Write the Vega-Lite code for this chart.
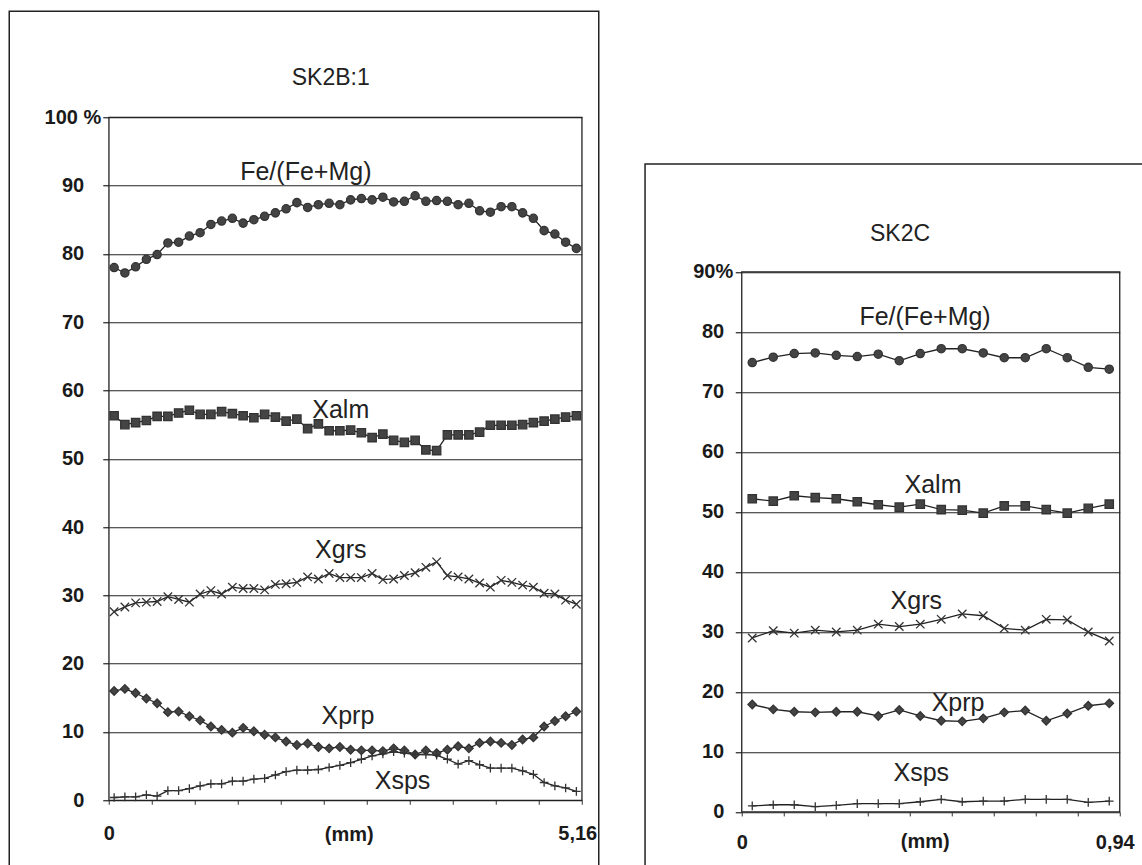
{
  "$schema": "https://vega.github.io/schema/vega-lite/v6.json",
  "padding": {"left": 7.75, "top": 9.25, "right": 0, "bottom": 0},
  "spacing": 43,
  "config": {
    "view": {"stroke": "#222", "strokeWidth": 1.3},
    "font": "Liberation Sans"
  },
  "datasets": {
    "left": [
      {"x": 0, "fe": 78.0, "alm": 56.3, "grs": 27.6, "prp": 16.0, "sps": 0.4},
      {"x": 0.12, "fe": 77.2, "alm": 55.0, "grs": 28.3, "prp": 16.3, "sps": 0.5},
      {"x": 0.24, "fe": 78.1, "alm": 55.3, "grs": 28.9, "prp": 15.7, "sps": 0.5},
      {"x": 0.36, "fe": 79.2, "alm": 55.6, "grs": 29.0, "prp": 14.9, "sps": 0.8},
      {"x": 0.48, "fe": 79.9, "alm": 56.2, "grs": 29.1, "prp": 14.2, "sps": 0.6},
      {"x": 0.60, "fe": 81.6, "alm": 56.2, "grs": 29.8, "prp": 12.9, "sps": 1.4},
      {"x": 0.72, "fe": 81.7, "alm": 56.7, "grs": 29.4, "prp": 13.0, "sps": 1.4},
      {"x": 0.84, "fe": 82.6, "alm": 57.1, "grs": 29.0, "prp": 12.3, "sps": 1.7},
      {"x": 0.96, "fe": 83.1, "alm": 56.5, "grs": 30.2, "prp": 11.7, "sps": 2.1},
      {"x": 1.08, "fe": 84.3, "alm": 56.5, "grs": 30.7, "prp": 10.8, "sps": 2.4},
      {"x": 1.20, "fe": 84.8, "alm": 56.9, "grs": 30.2, "prp": 10.3, "sps": 2.4},
      {"x": 1.32, "fe": 85.2, "alm": 56.6, "grs": 31.2, "prp": 9.9, "sps": 2.8},
      {"x": 1.44, "fe": 84.5, "alm": 56.3, "grs": 31.0, "prp": 10.6, "sps": 2.8},
      {"x": 1.56, "fe": 85.0, "alm": 56.0, "grs": 31.0, "prp": 10.1, "sps": 3.1},
      {"x": 1.68, "fe": 85.5, "alm": 56.5, "grs": 30.8, "prp": 9.6, "sps": 3.2},
      {"x": 1.80, "fe": 86.0, "alm": 56.1, "grs": 31.6, "prp": 9.2, "sps": 3.7},
      {"x": 1.92, "fe": 86.6, "alm": 55.5, "grs": 31.7, "prp": 8.6, "sps": 4.2},
      {"x": 2.04, "fe": 87.5, "alm": 55.8, "grs": 31.9, "prp": 8.1, "sps": 4.4},
      {"x": 2.16, "fe": 86.8, "alm": 54.4, "grs": 32.7, "prp": 8.3, "sps": 4.4},
      {"x": 2.28, "fe": 87.2, "alm": 55.1, "grs": 32.4, "prp": 7.8, "sps": 4.5},
      {"x": 2.40, "fe": 87.4, "alm": 54.1, "grs": 33.2, "prp": 7.6, "sps": 4.8},
      {"x": 2.52, "fe": 87.2, "alm": 54.1, "grs": 32.6, "prp": 7.8, "sps": 5.1},
      {"x": 2.64, "fe": 87.9, "alm": 54.2, "grs": 32.6, "prp": 7.4, "sps": 5.5},
      {"x": 2.76, "fe": 88.1, "alm": 53.8, "grs": 32.6, "prp": 7.3, "sps": 6.0},
      {"x": 2.88, "fe": 87.9, "alm": 53.1, "grs": 33.2, "prp": 7.3, "sps": 6.5},
      {"x": 3.00, "fe": 88.3, "alm": 53.6, "grs": 32.3, "prp": 7.2, "sps": 6.8},
      {"x": 3.12, "fe": 87.6, "alm": 52.7, "grs": 32.4, "prp": 7.6, "sps": 7.1},
      {"x": 3.24, "fe": 87.7, "alm": 52.4, "grs": 32.9, "prp": 7.3, "sps": 6.9},
      {"x": 3.36, "fe": 88.5, "alm": 52.7, "grs": 33.3, "prp": 6.7, "sps": 6.7},
      {"x": 3.48, "fe": 87.7, "alm": 51.3, "grs": 34.1, "prp": 7.3, "sps": 6.7},
      {"x": 3.60, "fe": 87.8, "alm": 51.2, "grs": 34.9, "prp": 6.9, "sps": 6.6},
      {"x": 3.72, "fe": 87.7, "alm": 53.5, "grs": 32.9, "prp": 7.4, "sps": 6.0},
      {"x": 3.84, "fe": 87.2, "alm": 53.5, "grs": 32.7, "prp": 7.9, "sps": 5.3},
      {"x": 3.96, "fe": 87.4, "alm": 53.5, "grs": 32.4, "prp": 7.6, "sps": 5.8},
      {"x": 4.08, "fe": 86.3, "alm": 53.9, "grs": 31.8, "prp": 8.4, "sps": 5.2},
      {"x": 4.20, "fe": 86.1, "alm": 54.9, "grs": 31.2, "prp": 8.6, "sps": 4.7},
      {"x": 4.32, "fe": 86.9, "alm": 54.9, "grs": 32.2, "prp": 8.4, "sps": 4.7},
      {"x": 4.44, "fe": 86.9, "alm": 54.9, "grs": 31.9, "prp": 8.1, "sps": 4.7},
      {"x": 4.56, "fe": 86.0, "alm": 55.0, "grs": 31.5, "prp": 8.9, "sps": 4.3},
      {"x": 4.68, "fe": 85.2, "alm": 55.3, "grs": 31.2, "prp": 9.2, "sps": 3.8},
      {"x": 4.80, "fe": 83.4, "alm": 55.5, "grs": 30.3, "prp": 10.8, "sps": 2.6},
      {"x": 4.92, "fe": 82.9, "alm": 55.8, "grs": 30.2, "prp": 11.6, "sps": 2.1},
      {"x": 5.04, "fe": 81.7, "alm": 56.1, "grs": 29.3, "prp": 12.3, "sps": 1.8},
      {"x": 5.16, "fe": 80.8, "alm": 56.3, "grs": 28.7, "prp": 13.0, "sps": 1.3}
    ],
    "right": [
      {"x": 0, "fe": 74.9, "alm": 52.2, "grs": 29.0, "prp": 17.9, "sps": 1.0},
      {"x": 0.0553, "fe": 75.8, "alm": 51.8, "grs": 30.2, "prp": 17.1, "sps": 1.2},
      {"x": 0.1106, "fe": 76.4, "alm": 52.7, "grs": 29.8, "prp": 16.7, "sps": 1.2},
      {"x": 0.1659, "fe": 76.5, "alm": 52.4, "grs": 30.3, "prp": 16.6, "sps": 0.9},
      {"x": 0.2212, "fe": 76.1, "alm": 52.2, "grs": 30.0, "prp": 16.7, "sps": 1.1},
      {"x": 0.2765, "fe": 75.9, "alm": 51.7, "grs": 30.3, "prp": 16.7, "sps": 1.4},
      {"x": 0.3318, "fe": 76.3, "alm": 51.2, "grs": 31.3, "prp": 16.0, "sps": 1.4},
      {"x": 0.3871, "fe": 75.2, "alm": 50.8, "grs": 30.9, "prp": 17.0, "sps": 1.4},
      {"x": 0.4424, "fe": 76.4, "alm": 51.3, "grs": 31.3, "prp": 16.0, "sps": 1.7},
      {"x": 0.4976, "fe": 77.2, "alm": 50.4, "grs": 32.1, "prp": 15.2, "sps": 2.1},
      {"x": 0.5529, "fe": 77.2, "alm": 50.3, "grs": 33.0, "prp": 15.1, "sps": 1.7},
      {"x": 0.6082, "fe": 76.5, "alm": 49.8, "grs": 32.7, "prp": 15.6, "sps": 1.8},
      {"x": 0.6635, "fe": 75.7, "alm": 51.0, "grs": 30.6, "prp": 16.6, "sps": 1.8},
      {"x": 0.7188, "fe": 75.7, "alm": 51.0, "grs": 30.3, "prp": 16.9, "sps": 2.1},
      {"x": 0.7741, "fe": 77.2, "alm": 50.4, "grs": 32.1, "prp": 15.2, "sps": 2.1},
      {"x": 0.8294, "fe": 75.7, "alm": 49.8, "grs": 32.0, "prp": 16.4, "sps": 2.1},
      {"x": 0.8847, "fe": 74.1, "alm": 50.6, "grs": 30.0, "prp": 17.7, "sps": 1.6},
      {"x": 0.94, "fe": 73.8, "alm": 51.3, "grs": 28.5, "prp": 18.1, "sps": 1.8}
    ],
    "leftLabels": [
      {"t": "Fe/(Fe+Mg)", "x": 2.14, "y": 90.8},
      {"t": "Xalm", "x": 2.53, "y": 56.0},
      {"t": "Xgrs", "x": 2.53, "y": 35.5},
      {"t": "Xprp", "x": 2.61, "y": 11.1},
      {"t": "Xsps", "x": 3.22, "y": 1.6}
    ],
    "rightLabels": [
      {"t": "Fe/(Fe+Mg)", "x": 0.455, "y": 81.1},
      {"t": "Xalm", "x": 0.476, "y": 53.2},
      {"t": "Xgrs", "x": 0.432, "y": 33.9},
      {"t": "Xprp", "x": 0.542, "y": 16.8},
      {"t": "Xsps", "x": 0.445, "y": 5.2}
    ]
  },
  "hconcat": [
    {
      "width": 473,
      "height": 683,
      "layer": [
        {
          "data": {"values": [{}]},
          "mark": {"type": "rect", "filled": false, "stroke": "#222", "strokeWidth": 1.5, "clip": false},
          "encoding": {
            "x": {"datum": -1.1707, "type": "quantitative"},
            "x2": {"datum": 5.4098},
            "y": {"datum": 115.52, "type": "quantitative"},
            "y2": {"datum": -11.86}
          }
        },
        {
          "data": {"name": "left"},
          "transform": [{"fold": ["fe", "alm", "grs", "prp", "sps"], "as": ["s", "v"]}],
          "mark": {"type": "line", "color": "#222", "strokeWidth": 1.3},
          "encoding": {
            "x": {
              "field": "x", "type": "quantitative",
              "scale": {"domain": [-0.06, 5.22], "nice": false, "zero": false},
              "axis": {
                "values": [-0.06, 0.06, 0.18, 0.3, 0.42, 0.54, 0.66, 0.78, 0.9, 1.02, 1.14, 1.26, 1.38, 1.5, 1.62, 1.74, 1.86, 1.98, 2.1, 2.22, 2.34, 2.46, 2.58, 2.7, 2.82, 2.94, 3.06, 3.18, 3.3, 3.42, 3.54, 3.66, 3.78, 3.9, 4.02, 4.14, 4.26, 4.38, 4.5, 4.62, 4.74, 4.86, 4.98, 5.1, 5.22],
                "grid": false, "domain": false, "tickSize": 4, "tickColor": "#333", "tickWidth": 1,
                "labelExpr": "datum.value < 0 ? '0' : datum.value > 5.2 ? '5,16' : ''",
                "labelOffset": {"condition": {"test": "datum.value > 5.2", "value": -4.5}, "value": 0},
                "labelFont": "Liberation Sans", "labelFontSize": 20, "labelFontWeight": "bold", "labelColor": "#1a1a1a",
                "labelPadding": 19, "labelOverlap": false, "labelFlush": false, "labelBound": false,
                "title": "(mm)", "titleFont": "Liberation Sans", "titleFontSize": 20, "titleFontWeight": "bold", "titleColor": "#1a1a1a",
                "titleBaseline": "alphabetic", "titleY": 40, "titleX": 240
              }
            },
            "y": {
              "field": "v", "type": "quantitative",
              "scale": {"domain": [0, 100], "nice": false, "zero": false},
              "axis": {
                "values": [0, 10, 20, 30, 40, 50, 60, 70, 80, 90, 100],
                "grid": true, "gridColor": "#222", "gridWidth": 1.2, "domain": false,
                "tickSize": 6, "tickColor": "#222", "tickWidth": 1.2,
                "labelExpr": "datum.value == 100 ? '100 %' : datum.label",
                "labelPadding": {"condition": {"test": "datum.value == 100", "value": 2}, "value": 19},
                "labelFont": "Liberation Sans", "labelFontSize": 20, "labelFontWeight": "bold", "labelColor": "#1a1a1a",
                "title": null
              }
            },
            "detail": {"field": "s"}
          }
        },
        {
          "data": {"name": "left"},
          "transform": [{"fold": ["fe", "alm", "grs", "prp", "sps"], "as": ["s", "v"]}],
          "mark": {"type": "point", "stroke": "#333", "strokeWidth": 1.3, "opacity": 1},
          "encoding": {
            "x": {"field": "x", "type": "quantitative"},
            "y": {"field": "v", "type": "quantitative"},
            "shape": {"field": "s", "type": "nominal", "legend": null,
              "scale": {"domain": ["fe", "alm", "grs", "prp", "sps"], "range": ["circle", "square", "M-1,-1L1,1M-1,1L1,-1", "diamond", "M0,-1V1M-1,0H1"]}},
            "fill": {"field": "s", "type": "nominal", "legend": null,
              "scale": {"domain": ["fe", "alm", "grs", "prp", "sps"], "range": ["#444", "#444", "transparent", "#444", "transparent"]}},
            "size": {"field": "s", "type": "nominal", "legend": null,
              "scale": {"domain": ["fe", "alm", "grs", "prp", "sps"], "range": [68, 75, 100, 90, 95]}}
          }
        },
        {
          "data": {"name": "leftLabels"},
          "mark": {"type": "text", "font": "Liberation Sans", "fontSize": 25, "color": "#222", "baseline": "alphabetic", "align": "center"},
          "encoding": {
            "x": {"field": "x", "type": "quantitative"},
            "y": {"field": "y", "type": "quantitative"},
            "text": {"field": "t"}
          }
        },
        {
          "data": {"values": [{"t": "SK2B:1"}]},
          "mark": {"type": "text", "font": "Liberation Sans", "fontSize": 23, "color": "#222", "baseline": "alphabetic", "align": "center", "clip": false},
          "encoding": {
            "x": {"datum": 2.418, "type": "quantitative"},
            "y": {"datum": 104.69, "type": "quantitative"},
            "text": {"field": "t"}
          }
        }
      ]
    },
    {
      "width": 378,
      "height": 694.7,
      "view": {"stroke": null},
      "layer": [
        {
          "data": {"values": [{}]},
          "mark": {"type": "rect", "filled": false, "stroke": "#222", "strokeWidth": 1.5, "clip": false},
          "encoding": {
            "x": {"datum": -0.28226, "type": "quantitative"},
            "x2": {"datum": 1.04742},
            "y": {"datum": 108.0, "type": "quantitative"},
            "y2": {"datum": -11.55}
          }
        },
        {
          "data": {"name": "right"},
          "transform": [{"fold": ["fe", "alm", "grs", "prp", "sps"], "as": ["s", "v"]}],
          "mark": {"type": "line", "color": "#222", "strokeWidth": 1.3},
          "encoding": {
            "x": {
              "field": "x", "type": "quantitative",
              "scale": {"domain": [-0.027647, 0.967647], "nice": false, "zero": false},
              "axis": {
                "values": [-0.027647, 0.027647, 0.082941, 0.138235, 0.193529, 0.248824, 0.304118, 0.359412, 0.414706, 0.47, 0.525294, 0.580588, 0.635882, 0.691176, 0.746471, 0.801765, 0.857059, 0.912353, 0.967647],
                "grid": false, "domain": false, "tickSize": 4, "tickColor": "#333", "tickWidth": 1,
                "labelExpr": "datum.value < 0 ? '0' : datum.value > 0.95 ? '0,94' : ''",
                "labelOffset": {"condition": {"test": "datum.value > 0.95", "value": -5}, "value": 0},
                "labelFont": "Liberation Sans", "labelFontSize": 20, "labelFontWeight": "bold", "labelColor": "#1a1a1a",
                "labelPadding": 17, "labelOverlap": false, "labelFlush": false, "labelBound": false,
                "title": "(mm)", "titleFont": "Liberation Sans", "titleFontSize": 20, "titleFontWeight": "bold", "titleColor": "#1a1a1a",
                "titleBaseline": "alphabetic", "titleY": 36, "titleX": 183
              }
            },
            "y": {
              "field": "v", "type": "quantitative",
              "scale": {"domain": [0, 115.783], "nice": false, "zero": false},
              "axis": {
                "values": [0, 10, 20, 30, 40, 50, 60, 70, 80, 90],
                "grid": true, "gridColor": "#222", "gridWidth": 1.2, "domain": false,
                "tickSize": 6.5, "tickColor": "#222", "tickWidth": 1.2,
                "labelExpr": "datum.value == 90 ? '90%' : datum.label",
                "labelPadding": {"condition": {"test": "datum.value == 90", "value": 2.5}, "value": 11.5},
                "labelFont": "Liberation Sans", "labelFontSize": 20, "labelFontWeight": "bold", "labelColor": "#1a1a1a",
                "title": null
              }
            },
            "detail": {"field": "s"}
          }
        },
        {
          "data": {"values": [{}]},
          "mark": {"type": "rect", "filled": false, "stroke": "#222", "strokeWidth": 1.3, "clip": false},
          "encoding": {
            "x": {"datum": -0.027647, "type": "quantitative"},
            "x2": {"datum": 0.967647},
            "y": {"datum": 90, "type": "quantitative"},
            "y2": {"datum": 0}
          }
        },
        {
          "data": {"name": "right"},
          "transform": [{"fold": ["fe", "alm", "grs", "prp", "sps"], "as": ["s", "v"]}],
          "mark": {"type": "point", "stroke": "#333", "strokeWidth": 1.3, "opacity": 1},
          "encoding": {
            "x": {"field": "x", "type": "quantitative"},
            "y": {"field": "v", "type": "quantitative"},
            "shape": {"field": "s", "type": "nominal", "legend": null,
              "scale": {"domain": ["fe", "alm", "grs", "prp", "sps"], "range": ["circle", "square", "M-1,-1L1,1M-1,1L1,-1", "diamond", "M0,-1V1M-1,0H1"]}},
            "fill": {"field": "s", "type": "nominal", "legend": null,
              "scale": {"domain": ["fe", "alm", "grs", "prp", "sps"], "range": ["#444", "#8c8c8c", "transparent", "#444", "transparent"]}},
            "size": {"field": "s", "type": "nominal", "legend": null,
              "scale": {"domain": ["fe", "alm", "grs", "prp", "sps"], "range": [68, 75, 110, 90, 100]}}
          }
        },
        {
          "data": {"name": "rightLabels"},
          "mark": {"type": "text", "font": "Liberation Sans", "fontSize": 25, "color": "#222", "baseline": "alphabetic", "align": "center"},
          "encoding": {
            "x": {"field": "x", "type": "quantitative"},
            "y": {"field": "y", "type": "quantitative"},
            "text": {"field": "t"}
          }
        },
        {
          "data": {"values": [{"t": "SK2C"}]},
          "mark": {"type": "text", "font": "Liberation Sans", "fontSize": 23, "color": "#222", "baseline": "alphabetic", "align": "center", "clip": false},
          "encoding": {
            "x": {"datum": 0.38915, "type": "quantitative"},
            "y": {"datum": 95.12, "type": "quantitative"},
            "text": {"field": "t"}
          }
        }
      ]
    }
  ]
}
